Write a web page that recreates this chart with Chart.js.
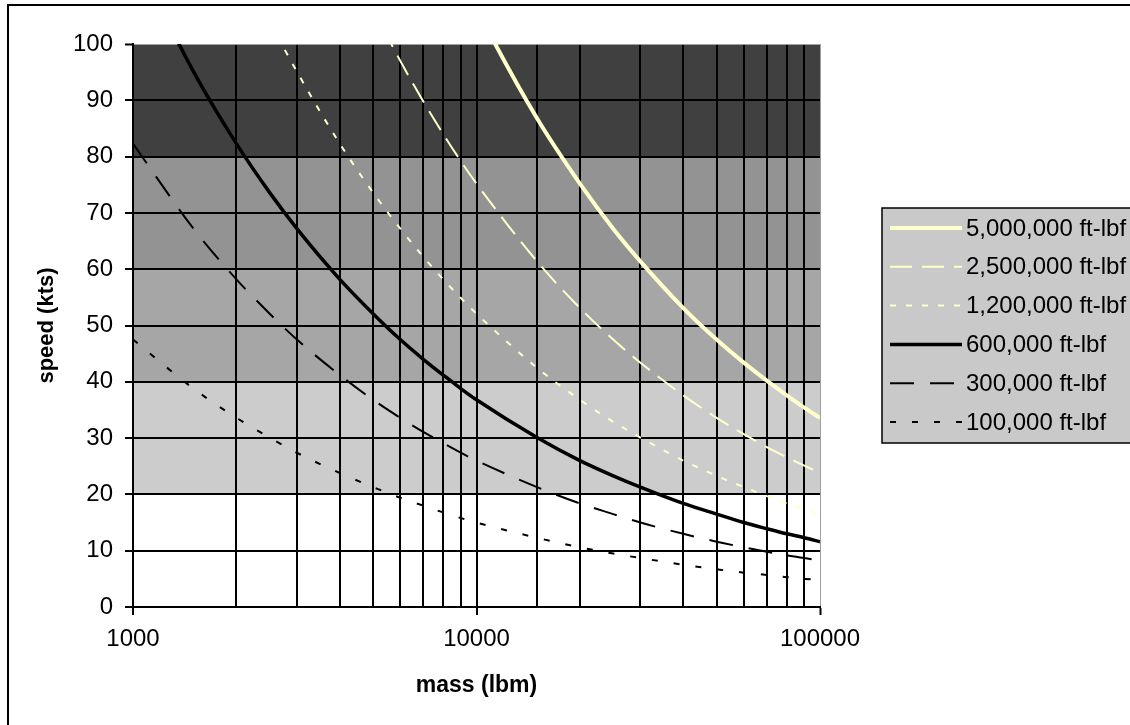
<!DOCTYPE html>
<html><head><meta charset="utf-8">
<script src="https://cdn.jsdelivr.net/npm/chart.js@4.4.1/dist/chart.umd.min.js"></script>
<style>html,body{margin:0;padding:0;background:#fff;overflow:hidden}</style>
</head><body>
<canvas id="c" width="1130" height="725"></canvas>
<script>
// ---- data ----
const massLbm = [1000,1500,2000,2500,3000,4000,5000,6000,7000,8000,9000,10000,15000,20000,25000,30000,40000,50000,60000,70000,80000,90000,100000];
const seriesLabels = ['5,000,000 ft-lbf','2,500,000 ft-lbf','1,200,000 ft-lbf','600,000 ft-lbf','300,000 ft-lbf','100,000 ft-lbf'];
const speed5000k = [336,274,237.6,212.5,194,168,150.3,137.2,127,118.8,112,106.3,86.8,75.2,67.2,61.4,53.1,47.5,43.4,40.2,37.6,35.4,33.6];
const speed2500k = [237.6,194,168,150.3,137.2,118.8,106.3,97,89.8,84,79.2,75.2,61.4,53.1,47.5,43.4,37.6,33.6,30.7,28.4,26.6,25.1,23.8];
const speed1200k = [164.6,134.4,116.4,104.1,95.1,82.3,73.6,67.2,62.2,58.2,54.9,52.1,42.5,36.8,32.9,30.1,26,23.3,21.3,19.7,18.4,17.4,16.5];
const speed600k  = [116.4,95.1,82.3,73.6,67.2,58.2,52.1,47.5,44,41.2,38.8,36.8,30.1,26,23.3,21.3,18.4,16.5,15,13.9,13,12.3,11.6];
const speed300k  = [82.3,67.2,58.2,52.1,47.5,41.2,36.8,33.6,31.1,29.1,27.4,26,21.3,18.4,16.5,15,13,11.6,10.6,9.8,9.2,8.7,8.2];
const speed100k  = [47.5,38.8,33.6,30.1,27.4,23.8,21.3,19.4,18,16.8,15.8,15,12.3,10.6,9.5,8.7,7.5,6.7,6.1,5.7,5.3,5,4.8];
const xTickLabels = ['1000','10000','100000'];
const yTickValues = [0,10,20,30,40,50,60,70,80,90,100];
const bandEdges = [0,20,40,60,80,100];
const bandColors = ['#ffffff','#cccccc','#a6a6a6','#939393','#404040'];

const FONT = "'Liberation Sans', Arial, sans-serif";
const pts = arr => massLbm.map((m,i)=>({x:m,y:arr[i]}));
const pale = '#ffffcc';

const datasets = [
  {label:seriesLabels[0], data:pts(speed5000k), borderColor:pale, borderWidth:4, borderDash:[]},
  {label:seriesLabels[1], data:pts(speed2500k), borderColor:pale, borderWidth:2, borderDash:[22,10]},
  {label:seriesLabels[2], data:pts(speed1200k), borderColor:pale, borderWidth:2, borderDash:[6,10]},
  {label:seriesLabels[3], data:pts(speed600k),  borderColor:'#000', borderWidth:3.5, borderDash:[]},
  {label:seriesLabels[4], data:pts(speed300k),  borderColor:'#000', borderWidth:2, borderDash:[24,16]},
  {label:seriesLabels[5], data:pts(speed100k),  borderColor:'#000', borderWidth:2, borderDash:[6,16]}
].map(d=>Object.assign(d,{pointRadius:0, fill:false, cubicInterpolationMode:'monotone', clip:0}));

const decor = {
  id:'decor',
  beforeDraw(chart){
    const {ctx, chartArea:a, scales:{y}} = chart;
    ctx.save();
    for(let i=0;i<bandColors.length;i++){
      const y0 = y.getPixelForValue(bandEdges[i]);
      const y1 = y.getPixelForValue(bandEdges[i+1]);
      ctx.fillStyle = bandColors[i];
      ctx.fillRect(a.left, y1, a.right-a.left, y0-y1);
    }
    ctx.restore();
  },
  afterDraw(chart){
    const ctx = chart.ctx;
    ctx.save();
    // outer frame
    ctx.strokeStyle='#000'; ctx.lineWidth=2; ctx.setLineDash([]);
    ctx.beginPath(); ctx.moveTo(8,730); ctx.lineTo(8,5); ctx.lineTo(1135,5); ctx.stroke();
    // legend
    const bx=882, by=208, bw=260, bh=235;
    ctx.fillStyle='#c9c9c9'; ctx.fillRect(bx,by,bw,bh);
    ctx.lineWidth=1.5; ctx.strokeStyle='#000'; ctx.strokeRect(bx,by,bw,bh);
    ctx.font = '24px '+FONT; ctx.textBaseline='middle'; ctx.textAlign='left';
    chart.data.datasets.forEach((ds,i)=>{
      const yy = 228 + i*38.8;
      ctx.strokeStyle=ds.borderColor; ctx.lineWidth=ds.borderWidth; ctx.setLineDash(ds.borderDash);
      ctx.beginPath(); ctx.moveTo(890,yy); ctx.lineTo(962,yy); ctx.stroke();
      ctx.setLineDash([]);
      ctx.fillStyle='#000'; ctx.fillText(ds.label, 966, yy+1);
    });
    ctx.restore();
  }
};

new Chart(document.getElementById('c'), {
  type:'line',
  data:{datasets},
  options:{
    responsive:false, animation:false, devicePixelRatio:1,
    layout:{padding:{top:44,right:310,left:0,bottom:0}},
    plugins:{legend:{display:false}, tooltip:{enabled:false}},
    scales:{
      x:{
        type:'logarithmic', min:1000, max:100000,
        afterFit(s){ s.height = 118; },
        border:{color:'#000', width:2},
        grid:{
          color:c=> (c.tick && c.tick.value===100000) ? '#a0a0a0' : '#000',
          lineWidth:c=> (c.tick && c.tick.value===100000) ? 1 : 2,
          tickColor:c=> (c.tick && xTickLabels.includes(String(c.tick.value))) ? '#000' : 'rgba(0,0,0,0)',
          tickLength:8, tickWidth:2
        },
        ticks:{
          autoSkip:false, maxRotation:0, color:'#000', padding:10,
          font:{family:FONT, size:24},
          callback:v=> xTickLabels.includes(String(v)) ? String(v) : ''
        },
        title:{display:true, text:'mass (lbm)', color:'#000', font:{family:FONT, size:23, weight:'bold'}, padding:{top:0,bottom:26}}
      },
      y:{
        min:0, max:100,
        afterFit(s){ s.width = 133; },
        afterBuildTicks(s){ s.ticks = yTickValues.map(v=>({value:v})); },
        border:{color:'#000', width:2},
        grid:{
          color:c=> (c.tick && c.tick.value===100) ? '#a0a0a0' : '#000',
          lineWidth:c=> (c.tick && c.tick.value===100) ? 1 : 2,
          tickColor:'#000', tickLength:8, tickWidth:2
        },
        ticks:{color:'#000', padding:12, font:{family:FONT, size:24}},
        title:{display:true, text:'speed (kts)', color:'#000', font:{family:FONT, size:22, weight:'bold'}, padding:{top:34,bottom:0}}
      }
    }
  },
  plugins:[decor]
});
</script>
</body></html>
